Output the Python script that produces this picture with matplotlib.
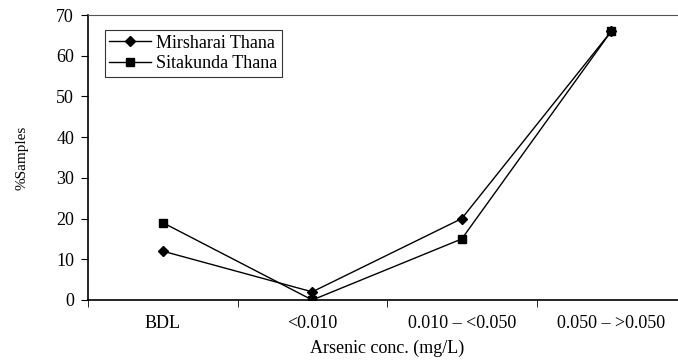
import matplotlib.pyplot as plt
import numpy as np

categories = ['BDL', '<0.010', '0.010 – <0.050', '0.050 – >0.050']
mirsharai = [12, 2, 20, 66]
sitakunda = [19, 0, 15, 66]

plt.rcParams['font.family'] = ['Liberation Serif', 'DejaVu Serif']

fig = plt.figure(figsize=(6.78, 3.6), dpi=100)
ax = fig.add_axes([88 / 678, 60 / 360, 598 / 678, 285 / 360])

x = np.arange(len(categories))
ax.plot(x, mirsharai, 'k-', marker='D', markersize=5, lw=1, label='Mirsharai Thana')
ax.plot(x, sitakunda, 'k-', marker='s', markersize=6, lw=1, label='Sitakunda Thana')

ax.set_xlim(-0.5, 3.5)
ax.set_ylim(0, 70)
ax.set_yticks(range(0, 71, 10))
ax.set_xticks(x)
ax.set_xticklabels(categories)
ax.set_xticks(np.arange(-0.5, 3.6, 1), minor=True)
ax.tick_params(axis='x', which='major', length=0, pad=11, labelsize=13)
ax.tick_params(axis='x', which='minor', length=5, direction='out')
ax.tick_params(axis='y', length=5, direction='out', labelsize=13, pad=5)

ax.spines['right'].set_visible(False)
ax.spines['top'].set_color('#555555')
for s in ['left', 'bottom']:
    ax.spines[s].set_linewidth(1.2)

ax.set_xlabel('Arsenic conc. (mg/L)', fontsize=13, labelpad=5)
ax.set_ylabel('%Samples', fontsize=11, labelpad=20)

leg = ax.legend(loc='upper left', bbox_to_anchor=(0.028, 0.947), fontsize=13,
                frameon=True, fancybox=False, edgecolor='black', numpoints=1,
                handlelength=2.3, handletextpad=0.3, borderpad=0.25,
                labelspacing=0.2, borderaxespad=0)
leg.get_frame().set_linewidth(0.8)

fig.savefig('out.png', dpi=100)
